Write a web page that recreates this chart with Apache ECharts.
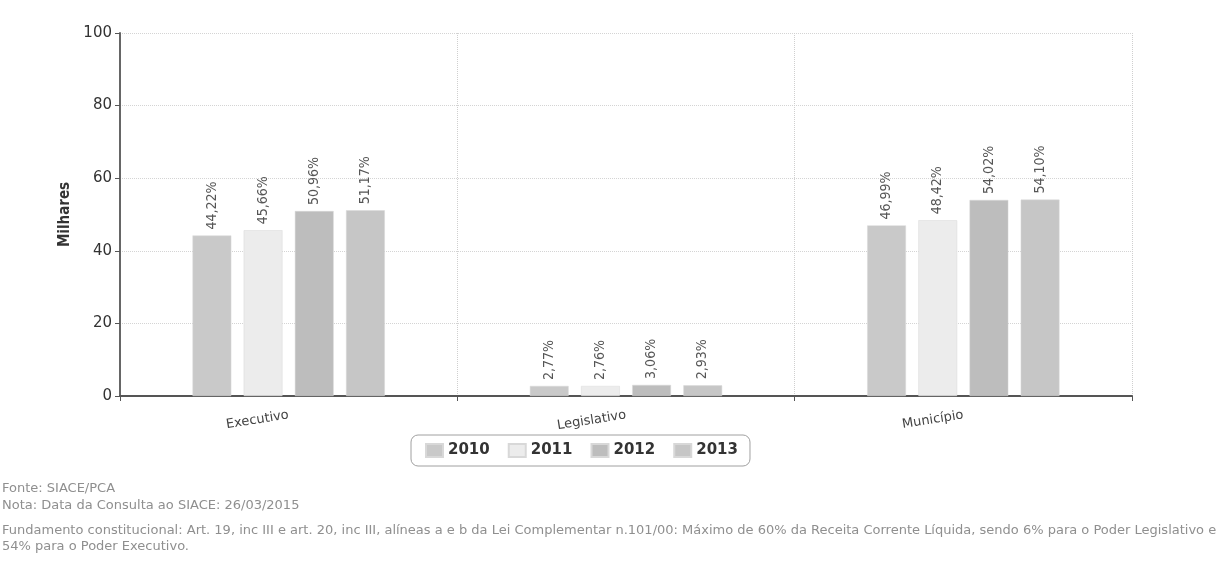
<!DOCTYPE html>
<html>
<head>
<meta charset="utf-8">
<script src="https://cdn.jsdelivr.net/npm/echarts@6/dist/echarts.min.js"></script>
<style>
html,body{margin:0;padding:0;background:#fff;}
#c{width:1224px;height:579px;}
</style>
</head>
<body>
<div id="c"></div>
<script>
const categories = ['Executivo', 'Legislativo', 'Município'];
const years = ['2010', '2011', '2012', '2013'];
const v2010 = [44.22, 2.77, 46.99];
const v2011 = [45.66, 2.76, 48.42];
const v2012 = [50.96, 3.06, 54.02];
const v2013 = [51.17, 2.93, 54.10];
const yTicks = [0, 20, 40, 60, 80, 100];
const notes = [
  'Fonte: SIACE/PCA',
  'Nota: Data da Consulta ao SIACE: 26/03/2015',
  'Fundamento constitucional: Art. 19, inc III e art. 20, inc III, alíneas a e b da Lei Complementar n.101/00: Máximo de 60% da Receita Corrente Líquida, sendo 6% para o Poder Legislativo e',
  '54% para o Poder Executivo.'
];

const colors = ['#c9c9c9', '#ececec', '#bdbdbd', '#c6c6c6'];
const seriesData = [v2010, v2011, v2012, v2013];

const chart = echarts.init(document.getElementById('c'));
const fmt = p => p.value.toFixed(2).replace('.', ',') + '%';

chart.setOption({
  backgroundColor: '#ffffff',
  animation: false,
  color: colors,
  grid: { left: 120, right: 92, top: 33, bottom: 183, containLabel: false },
  legend: {
    top: 435,
    left: 411,
    data: years,
    borderColor: '#a0a0a0',
    borderWidth: 1,
    borderRadius: 7,
    padding: [8, 12, 8, 14],
    itemWidth: 17,
    itemHeight: 13,
    itemGap: 18,
    icon: 'rect',
    textStyle: { fontFamily: 'DejaVu Sans', fontSize: 15, fontWeight: 'bold', color: '#333' }
  },
  xAxis: {
    type: 'category',
    data: categories,
    axisLine: { lineStyle: { color: '#555', width: 2 } },
    axisTick: { show: true, alignWithLabel: false, length: 5, lineStyle: { color: '#555' } },
    splitLine: { show: true, lineStyle: { color: '#cfcfcf', type: 'dotted' } },
    axisLabel: {
      rotate: 9, margin: 19, fontFamily: 'DejaVu Sans', fontSize: 13, color: '#444',
      padding: [0, 0, 0, 0]
    }
  },
  yAxis: {
    type: 'value',
    min: 0, max: 100, interval: 20,
    name: 'Milhares',
    nameLocation: 'middle',
    nameGap: 46,
    nameRotate: 90,
    nameTextStyle: { fontFamily: 'DejaVu Sans Condensed', fontSize: 15, fontWeight: 'bold', color: '#333' },
    axisLine: { show: true, lineStyle: { color: '#666', width: 2 } },
    axisTick: { show: true, length: 5, inside: false, lineStyle: { color: '#555' } },
    axisLabel: { fontFamily: 'DejaVu Sans', fontSize: 15, color: '#333', margin: 8 },
    splitLine: { show: true, lineStyle: { color: '#d4d4d4', type: 'dotted' } }
  },
  series: years.map((y, i) => ({
    name: y,
    type: 'bar',
    data: seriesData[i],
    barGap: '32%',
    barCategoryGap: '43%',
    itemStyle: { color: colors[i], borderColor: '#d8d8d8', borderWidth: 0.5 },
    label: {
      show: true,
      position: 'top',
      rotate: 90,
      align: 'left',
      verticalAlign: 'middle',
      distance: 6,
      fontFamily: 'DejaVu Sans Condensed',
      fontSize: 14,
      color: '#555',
      formatter: fmt
    }
  })),
  graphic: notes.map((t, i) => ({
    type: 'text',
    left: 2,
    top: [482, 499, 524, 540][i],
    style: { text: t, fontFamily: 'DejaVu Sans', fontSize: 13, fill: '#8f8f8f' }
  }))
});
</script>
</body>
</html>
